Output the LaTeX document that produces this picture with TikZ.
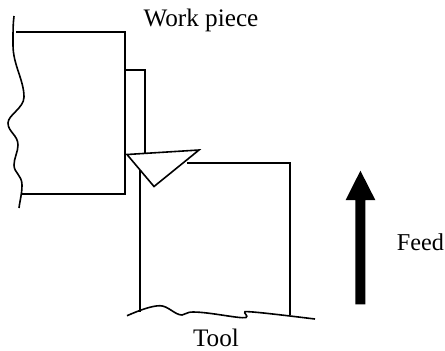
\documentclass[tikz,border=0pt]{standalone}
\usepackage{fontspec}
\setmainfont{Liberation Serif}
\begin{document}
\begin{tikzpicture}[x=1bp,y=-1bp,
  line/.style={draw=black,line width=1.6bp},
  lbl/.style={inner sep=0pt,anchor=base,font=\fontsize{25.2bp}{28bp}\selectfont}]
\useasboundingbox (0,0) rectangle (445,350);
\draw[line] (16,32) -- (125,32) -- (125,194) -- (21,194);
\draw[line] (125,70) -- (145,70) -- (145,153);
\draw[line] (14,16) .. controls (13,24) and (13,31) .. (13,45)
  .. controls (13,65) and (24,80) .. (24,97)
  .. controls (24,108) and (8,115) .. (8,123)
  .. controls (8,132) and (18,135) .. (18,145)
  .. controls (18,152) and (14,158) .. (14,165)
  .. controls (14,173) and (22,175) .. (22,185)
  .. controls (22,194) and (20,200) .. (19,208);
\draw[line] (140,170) -- (140,312);
\draw[line] (187,163) -- (290,163) -- (290,315);
\draw[line,line join=miter] (127,154.5) -- (199,150) -- (154,186.5) -- cycle;
\draw[line] (127,315.7) .. controls (140,310) and (152,305.7) .. (160,305.7)
  .. controls (168,305.7) and (175,315) .. (182,315)
  .. controls (185,315) and (186,312) .. (193,312)
  .. controls (210,312) and (240,319) .. (246,317.5)
  .. controls (249,316) and (243,313) .. (245,311.7)
  .. controls (250,311) and (290,316) .. (315,319);
\fill[black] (355.3,304.3) -- (355.3,200) -- (345.7,200) -- (360.4,170.7) -- (375.3,200) -- (365.3,200) -- (365.3,304.3) -- cycle;
\node[lbl] (work) at (201,26.7) {Work piece};
\node[lbl,font=\fontsize{24.2bp}{28bp}\selectfont] (feed) at (420.5,250) {Feed};
\node[lbl] (tool) at (216,346.5) {Tool};
\end{tikzpicture}
\end{document}
